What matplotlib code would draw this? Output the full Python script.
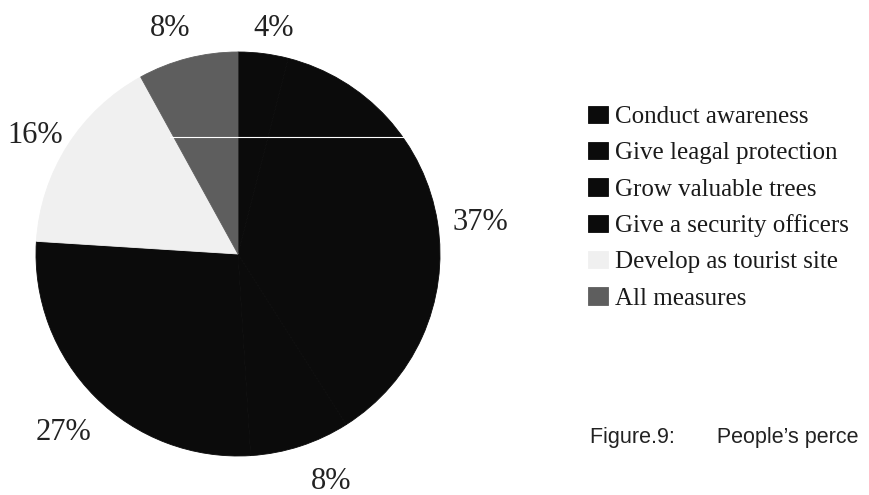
import matplotlib.pyplot as plt
import numpy as np

# valores (sentido horário a partir do topo)
labels = ['Conduct awareness', 'Give leagal protection', 'Grow valuable trees',
          'Give a security officers', 'Develop as tourist site', 'All measures']
shares = [4, 37, 8, 27, 16, 8]
colors = ['#0b0b0b', '#0b0b0b', '#0b0b0b', '#0b0b0b', '#f0f0f0', '#5e5e5e']

# pequenos ajustes (px) nos rótulos, como o Excel faz para evitar sobreposição
nudges_px = [(7, 1), (0, -3), (21, -3), (-2, -3), (4, -10), (-10, 5)]

fig = plt.figure(figsize=(8.69, 4.95), dpi=100)
ax = fig.add_axes([36 / 869, 39 / 495, 404 / 869, 404 / 495])

wedges, texts, autotexts = ax.pie(
    shares, colors=colors, startangle=90, counterclock=False,
    autopct='%d%%', pctdistance=1.19, labeldistance=None,
    wedgeprops=dict(linewidth=0.6),
    textprops=dict(family='Liberation Serif', fontsize=22, color='#222222'))
for w in wedges:
    w.set_edgecolor(w.get_facecolor())
ax.set_xlim(-1, 1)
ax.set_ylim(-1, 1)
ax.set_aspect('equal')

# rótulos colocados fora da borda (pela caixa do texto)
fig.canvas.draw()
inv = ax.transData.inverted()
px = 2 / 404  # unidades de dados por pixel
for w, t, (dx, dy) in zip(wedges, autotexts, nudges_px):
    t.set_va('center_baseline')
    bb = t.get_window_extent()
    (x0, y0), (x1, y1) = inv.transform([[bb.x0, bb.y0], [bb.x1, bb.y1]])
    hw, hh = (x1 - x0) / 2, (y1 - y0) / 2 * 0.75
    ang = np.deg2rad((w.theta1 + w.theta2) / 2)
    r = 1.07 + abs(np.cos(ang)) * hw + abs(np.sin(ang)) * hh
    t.set_position((r * np.cos(ang) + dx * px, r * np.sin(ang) + dy * px))

# risco branco do scan atravessando a pizza
fig.add_artist(plt.Line2D([170 / 869, 405 / 869], [1 - 137 / 495, 1 - 137 / 495],
                          color='white', linewidth=0.8))

leg = fig.legend(wedges, labels, loc='upper left', bbox_to_anchor=(565 / 869, 1 - 83 / 495),
                 frameon=False, handlelength=0.8, handleheight=0.7, handletextpad=0.3,
                 labelspacing=0.55, prop=dict(family='Liberation Serif', size=18))
for t in leg.get_texts():
    t.set_color('#1a1a1a')

fig.text(590 / 869, 1 - 443 / 495, 'Figure.9:       People\u2019s perce',
         family='Liberation Sans', fontsize=15.5, color='#222222', va='baseline')

fig.savefig('out.png', dpi=100)
